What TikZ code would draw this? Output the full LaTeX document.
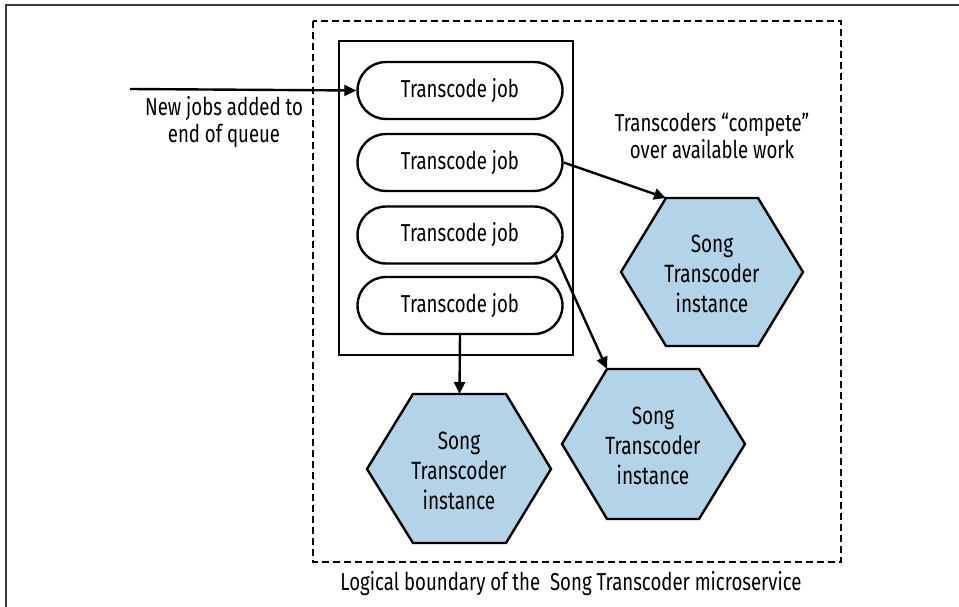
\documentclass[tikz,border=0pt]{standalone}
\usepackage{fontspec}
\setmainfont{Fira Sans}[FakeStretch=0.76]
\usetikzlibrary{arrows.meta,shapes.misc}
\definecolor{hexblue}{RGB}{179,211,233}
\definecolor{framegray}{RGB}{60,60,60}
\tikzset{
  job/.style={draw, line width=2.4pt, rounded rectangle, minimum width=205pt, minimum height=57pt, inner sep=0pt, font=\fontsize{24.5}{29}\selectfont},
  hexshape/.style={draw, line width=2.4pt, fill=hexblue, line join=miter},
  hextext/.style={align=center, font=\fontsize{25}{30}\selectfont},
  lbl/.style={align=center, font=\fontsize{24.5}{27}\selectfont},
  conn/.style={line width=2.4pt, -{Triangle[length=12pt,width=11pt]}},
  boundary/.style={draw, line width=2.6pt, dash pattern=on 7pt off 4pt},
  queue/.style={draw, line width=2.4pt},
}
\begin{document}
\begin{tikzpicture}[x=1pt,y=-1pt]
\useasboundingbox (0,0) rectangle (959,607);
% partial outer frame
\draw[framegray, line width=1.6pt] (6,607) -- (6,5) -- (959,5);
% logical boundary
\draw[boundary] (313,21) rectangle (841,562);
% queue container
\draw[queue] (339,41) rectangle (573,355);
% jobs
\node[job] (j1) at (460,90.5) {Transcode job};
\node[job] (j2) at (460,162.5) {Transcode job};
\node[job] (j3) at (460,235) {Transcode job};
\node[job] (j4) at (460,305.5) {Transcode job};
% hexagons
\draw[hexshape] (621,272) -- (666,198) coordinate (h1tl) -- (758,198) -- (803,272) -- (758,346) -- (666,346) -- cycle;
\node[hextext] (h1) at (712,274) {Song\\Transcoder\\instance};
\draw[hexshape] (367,469) -- (413,394) -- (506,394) -- (551,469) -- (506,543) -- (413,543) -- cycle;
\coordinate (h2t) at (459.5,394);
\node[hextext] (h2) at (459,471) {Song\\Transcoder\\instance};
\draw[hexshape] (562,444) -- (607,369) coordinate (h3tl) -- (699,369) -- (745,444) -- (699,519) -- (607,519) -- cycle;
\node[hextext] (h3) at (653,446) {Song\\Transcoder\\instance};
% labels
\node[lbl] (newjobs) at (224,122) {New jobs added to\\end of queue};
\node[lbl] (compete) at (712,136) {Transcoders “compete”\\over available work};
\node[lbl] (boundlbl) at (571,584) {Logical boundary of the\ \ Song Transcoder microservice};
% connectors
\coordinate (src) at (130,89);
\draw[conn] (src) -- (j1.west);
\draw[conn] (j2.east) -- (h1tl);
\draw[conn] (j3.-12) -- (h3tl);
\draw[conn] (j4.south) -- (h2t);
\end{tikzpicture}
\end{document}
